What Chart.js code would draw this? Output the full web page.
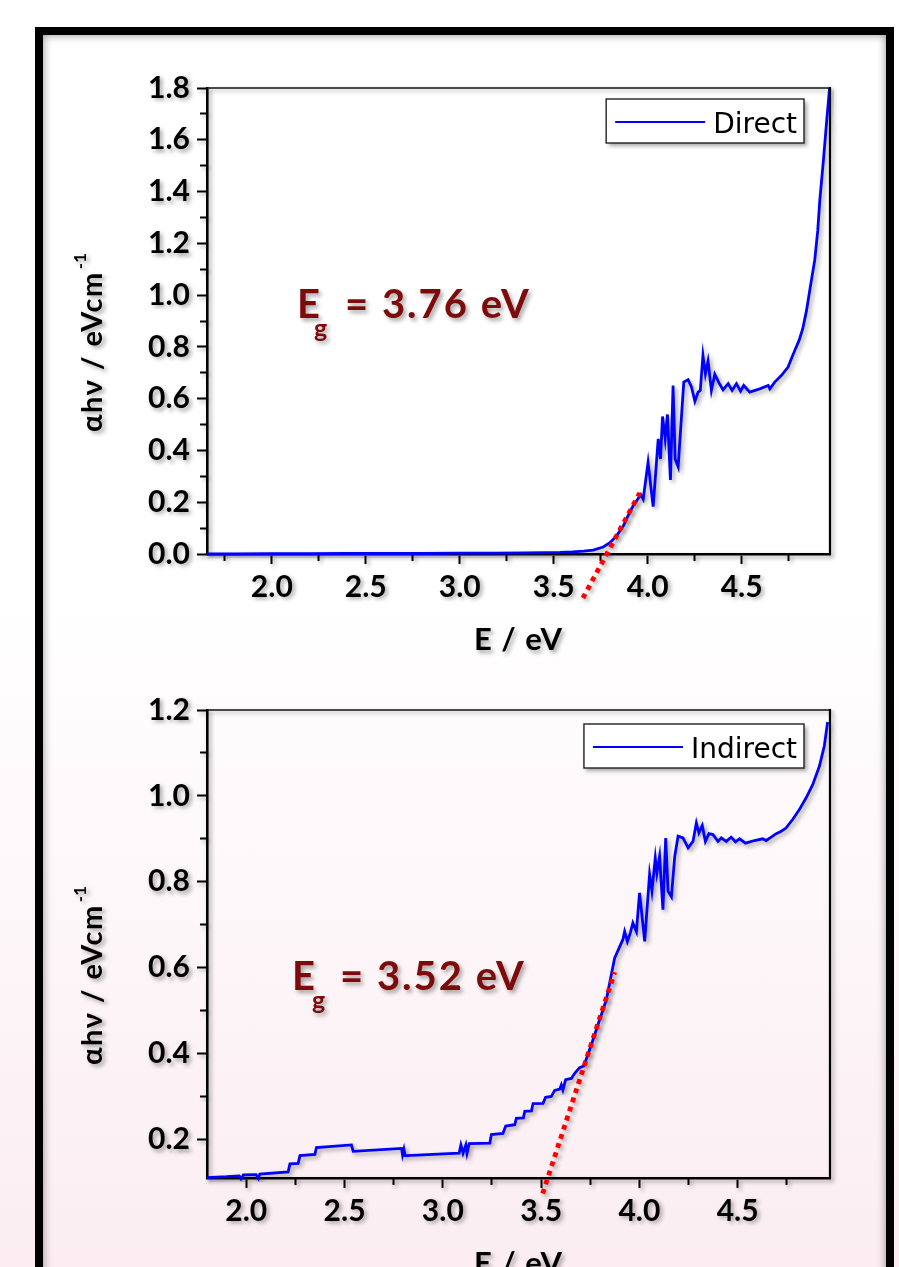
<!DOCTYPE html>
<html><head><meta charset="utf-8">
<script src="https://cdn.jsdelivr.net/npm/chart.js@4.4.1/dist/chart.umd.min.js"></script>
<style>
html,body{margin:0;padding:0;width:899px;height:1267px;overflow:hidden;}
body{background:linear-gradient(to bottom,#ffffff 0px,#ffffff 600px,#fbedf2 1267px);position:relative;}
#frame{position:absolute;left:35px;top:27px;width:843px;height:1320px;border:8px solid #000;box-shadow:inset 0 0 8px rgba(0,0,0,0.45);}
canvas{position:absolute;left:0;}
#c1{top:0;}
#c2{top:660px;}
</style></head><body>
<div id="frame"></div>
<canvas id="c1" width="899" height="660"></canvas>
<canvas id="c2" width="899" height="607"></canvas>
<script>
// ---- data: direct (top) ----
const directE   = [1.655, 1.8, 2.0, 2.2, 2.4, 2.6, 2.8, 3.0, 3.2, 3.35, 3.45, 3.533, 3.6, 3.66, 3.71, 3.763, 3.799, 3.834, 3.87, 3.895, 3.922, 3.94, 3.963, 3.976, 4.002, 4.029, 4.056, 4.068, 4.079, 4.093, 4.105, 4.121, 4.135, 4.146, 4.162, 4.192, 4.215, 4.233, 4.251, 4.268, 4.28, 4.294, 4.307, 4.321, 4.339, 4.357, 4.38, 4.401, 4.428, 4.449, 4.472, 4.494, 4.511, 4.543, 4.596, 4.641, 4.65, 4.676, 4.712, 4.747, 4.765, 4.783, 4.806, 4.825, 4.845, 4.865, 4.889, 4.905, 4.916, 4.935, 4.953, 4.968];
const directAbs = [0.0, 0.0, 0.001, 0.001, 0.002, 0.002, 0.002, 0.003, 0.003, 0.004, 0.005, 0.006, 0.008, 0.011, 0.015, 0.027, 0.044, 0.07, 0.108, 0.147, 0.186, 0.205, 0.229, 0.212, 0.354, 0.183, 0.445, 0.367, 0.531, 0.445, 0.539, 0.286, 0.651, 0.367, 0.337, 0.664, 0.673, 0.645, 0.59, 0.625, 0.632, 0.767, 0.696, 0.745, 0.632, 0.694, 0.66, 0.634, 0.658, 0.632, 0.658, 0.629, 0.651, 0.625, 0.638, 0.651, 0.638, 0.664, 0.69, 0.722, 0.755, 0.787, 0.826, 0.87, 0.94, 1.03, 1.136, 1.25, 1.368, 1.52, 1.678, 1.8];
const directFitE   = [3.655, 3.958];
const directFitAbs = [-0.17, 0.236];

// ---- data: indirect (bottom) ----
const indirectE   = [1.80, 1.90, 1.964, 1.973, 1.985, 2.05, 2.061, 2.069, 2.213, 2.222, 2.264, 2.273, 2.349, 2.357, 2.535, 2.544, 2.79, 2.795, 2.802, 2.808, 2.815, 3.083, 3.092, 3.103, 3.117, 3.123, 3.134, 3.239, 3.247, 3.306, 3.32, 3.366, 3.374, 3.41, 3.417, 3.451, 3.459, 3.51, 3.523, 3.552, 3.569, 3.595, 3.603, 3.611, 3.625, 3.654, 3.671, 3.696, 3.717, 3.738, 3.764, 3.798, 3.832, 3.874, 3.90, 3.916, 3.925, 3.939, 3.954, 3.967, 3.985, 4.001, 4.027, 4.052, 4.064, 4.081, 4.089, 4.103, 4.12, 4.134, 4.146, 4.163, 4.18, 4.197, 4.222, 4.248, 4.273, 4.29, 4.303, 4.32, 4.336, 4.354, 4.374, 4.40, 4.417, 4.442, 4.467, 4.489, 4.51, 4.54, 4.586, 4.628, 4.645, 4.671, 4.696, 4.72, 4.746, 4.78, 4.814, 4.848, 4.882, 4.916, 4.941, 4.958];
const indirectAbs = [0.111, 0.113, 0.115, 0.108, 0.117, 0.118, 0.109, 0.119, 0.124, 0.143, 0.144, 0.162, 0.165, 0.181, 0.187, 0.172, 0.179, 0.164, 0.177, 0.162, 0.162, 0.168, 0.187, 0.168, 0.187, 0.168, 0.19, 0.191, 0.211, 0.214, 0.231, 0.234, 0.249, 0.25, 0.265, 0.266, 0.283, 0.284, 0.298, 0.30, 0.314, 0.317, 0.327, 0.315, 0.339, 0.342, 0.354, 0.367, 0.371, 0.397, 0.432, 0.479, 0.525, 0.622, 0.649, 0.665, 0.684, 0.661, 0.681, 0.704, 0.684, 0.774, 0.661, 0.817, 0.778, 0.855, 0.82, 0.859, 0.735, 0.902, 0.778, 0.765, 0.859, 0.906, 0.902, 0.879, 0.894, 0.937, 0.914, 0.931, 0.894, 0.912, 0.91, 0.894, 0.902, 0.894, 0.904, 0.893, 0.90, 0.89, 0.896, 0.90, 0.896, 0.904, 0.912, 0.917, 0.925, 0.945, 0.968, 0.995, 1.026, 1.069, 1.116, 1.172];
const indirectFitE   = [3.508, 3.874];
const indirectFitAbs = [0.074, 0.589];

// ---- ticks ----
const topXMajor = [2.0, 2.5, 3.0, 3.5, 4.0, 4.5];
const topXMinor = [1.75, 2.25, 2.75, 3.25, 3.75, 4.25, 4.75];
const topYMajor = [0.0, 0.2, 0.4, 0.6, 0.8, 1.0, 1.2, 1.4, 1.6, 1.8];
const topYMinor = [0.1, 0.3, 0.5, 0.7, 0.9, 1.1, 1.3, 1.5, 1.7];
const botXMajor = [2.0, 2.5, 3.0, 3.5, 4.0, 4.5];
const botXMinor = [2.25, 2.75, 3.25, 3.75, 4.25, 4.75];
const botYMajor = [0.2, 0.4, 0.6, 0.8, 1.0, 1.2];
const botYMinor = [0.3, 0.5, 0.7, 0.9, 1.1];

// ---- texts ----
const seriesLabels = ['Direct', 'Indirect'];
const gapValues = ['3.76', '3.52'];
const xTitle = 'E / eV';
const yTitle = 'αhν / eVcm';
const yTitleSup = '-1';

const SHADOW = 'rgba(0,0,0,0.35)';

function makeChart(id, c) {
  const ctxEl = document.getElementById(id);
  const decor = {
    id: 'decor',
    beforeDraw(chart) {
      const ctx = chart.ctx;
      ctx.save();
      ctx.shadowColor = SHADOW;
      ctx.shadowBlur = 4;
      ctx.shadowOffsetX = 2.5;
      ctx.shadowOffsetY = 2.5;
    },
    afterDraw(chart) {
      const ctx = chart.ctx;
      const a = chart.chartArea;
      // top & right frame lines
      ctx.strokeStyle = '#111';
      ctx.lineWidth = 1.3;
      ctx.beginPath(); ctx.moveTo(a.left, a.top); ctx.lineTo(a.right, a.top); ctx.stroke();
      ctx.lineWidth = 2.2;
      ctx.strokeStyle = '#000';
      ctx.beginPath(); ctx.moveTo(a.right, a.top - 1); ctx.lineTo(a.right, a.bottom); ctx.stroke();

      // x title
      ctx.save();
      ctx.fillStyle = '#000';
      ctx.font = 'bold 31px Lato';
      ctx.letterSpacing = '1px';
      ctx.textAlign = 'center';
      ctx.textBaseline = 'alphabetic';
      ctx.fillText(xTitle, (a.left + a.right) / 2, a.bottom + 96);
      ctx.restore();

      // y title (rotated, with superscript)
      ctx.save();
      ctx.fillStyle = '#000';
      ctx.translate(102, c.yTitleStart);
      ctx.rotate(-Math.PI / 2);
      ctx.font = 'bold 29px Lato';
      ctx.letterSpacing = '1.5px';
      ctx.textAlign = 'left';
      ctx.textBaseline = 'alphabetic';
      ctx.fillText(yTitle, 0, 0);
      const w = ctx.measureText(yTitle).width;
      ctx.font = 'bold 17px Lato';
      ctx.letterSpacing = '0px';
      ctx.fillText(yTitleSup, w + 2, -16);
      ctx.restore();

      // legend box
      ctx.save();
      ctx.font = '28px "DejaVu Sans"';
      const tw = ctx.measureText(c.label).width;
      const bw = 9 + 90 + 8 + tw + 7;
      const bh = 44;
      const bx = a.right - 26 - bw;
      const by = a.top + c.legendTop;
      ctx.fillStyle = '#fff';
      ctx.fillRect(bx, by, bw, bh);
      ctx.shadowColor = 'transparent';
      ctx.strokeStyle = '#222';
      ctx.lineWidth = 1.4;
      ctx.strokeRect(bx, by, bw, bh);
      ctx.strokeStyle = '#0000ff';
      ctx.lineWidth = 2.2;
      ctx.beginPath(); ctx.moveTo(bx + 9, by + 23); ctx.lineTo(bx + 99, by + 23); ctx.stroke();
      ctx.fillStyle = '#000';
      ctx.textAlign = 'left';
      ctx.textBaseline = 'alphabetic';
      ctx.fillText(c.label, bx + 107, by + 34);
      ctx.restore();

      // band-gap annotation
      ctx.save();
      ctx.fillStyle = '#7d0b0b';
      ctx.textAlign = 'left';
      ctx.textBaseline = 'alphabetic';
      ctx.font = 'bold 40px Lato';
      ctx.fillText('E', c.egX, c.egY);
      ctx.font = 'bold 25px Lato';
      ctx.fillText('g', c.egX + c.gDx, c.egY + 19);
      ctx.font = 'bold 40px Lato';
      ctx.letterSpacing = '2px';
      ctx.fillText('= ' + c.gap + ' eV', c.egX + 48, c.egY);
      ctx.restore();

      ctx.restore();
    }
  };

  const tickFont = { family: 'Lato', weight: 'bold', size: 30 };
  return new Chart(ctxEl, {
    type: 'line',
    data: {
      datasets: [
        {
          label: c.label,
          data: c.E.map((x, i) => ({ x: x, y: c.A[i] })),
          borderColor: '#0000ff', borderWidth: 2.8, pointRadius: 0, tension: 0,
          order: 1, clip: 4, xAxisID: 'x', yAxisID: 'y'
        },
        {
          label: 'fit',
          data: c.fitE.map((x, i) => ({ x: x, y: c.fitA[i] })),
          borderColor: '#ff0000', borderWidth: 4.8, borderDash: [4.8, 4.8], borderCapStyle: 'butt',
          pointRadius: 0, tension: 0, order: 0, clip: false, xAxisID: 'x', yAxisID: 'y'
        }
      ]
    },
    options: {
      responsive: false,
      animation: false,
      devicePixelRatio: 1,
      layout: { padding: { top: c.padTop, right: 69, left: 0, bottom: 0 } },
      plugins: { legend: { display: false }, tooltip: { enabled: false } },
      scales: {
        x: {
          type: 'linear', position: 'bottom', weight: 1, min: c.xMin, max: c.xMax,
          afterBuildTicks: s => { s.ticks = c.xMajor.map(v => ({ value: v })); },
          afterFit: s => { s.height = c.xAxisH; },
          ticks: { autoSkip: false, maxRotation: 0, color: '#000', font: tickFont, padding: 5,
                   callback: v => Number(v).toFixed(1) },
          grid: { drawOnChartArea: false, drawTicks: true, tickLength: 10, tickWidth: 2, tickColor: '#000' },
          border: { display: true, color: '#000', width: 2.6 }
        },
        xm: {
          type: 'linear', position: 'bottom', weight: 0, min: c.xMin, max: c.xMax,
          afterBuildTicks: s => { s.ticks = c.xMinor.map(v => ({ value: v })); },
          afterFit: s => { s.height = 0; },
          ticks: { display: false },
          grid: { drawOnChartArea: false, drawTicks: true, tickLength: 7, tickWidth: 2, tickColor: '#000' },
          border: { display: false }
        },
        y: {
          type: 'linear', position: 'left', weight: 1, min: c.yMin, max: c.yMax,
          afterBuildTicks: s => { s.ticks = c.yMajor.map(v => ({ value: v })); },
          afterFit: s => { s.width = 207; },
          ticks: { autoSkip: false, color: '#000', font: tickFont, padding: 7,
                   callback: v => Number(v).toFixed(1) },
          grid: { drawOnChartArea: false, drawTicks: true, tickLength: 10, tickWidth: 2, tickColor: '#000' },
          border: { display: true, color: '#000', width: 2.6 }
        },
        ym: {
          type: 'linear', position: 'left', weight: 0, min: c.yMin, max: c.yMax,
          afterBuildTicks: s => { s.ticks = c.yMinor.map(v => ({ value: v })); },
          afterFit: s => { s.width = 0; },
          ticks: { display: false },
          grid: { drawOnChartArea: false, drawTicks: true, tickLength: 7, tickWidth: 2, tickColor: '#000' },
          border: { display: false }
        }
      }
    },
    plugins: [decor]
  });
}

makeChart('c1', {
  E: directE, A: directAbs, fitE: directFitE, fitA: directFitAbs,
  xMin: 1.655, xMax: 4.97, yMin: 0, yMax: 1.8,
  xMajor: topXMajor, xMinor: topXMinor, yMajor: topYMajor, yMinor: topYMinor,
  label: seriesLabels[0], gap: gapValues[0],
  padTop: 88, xAxisH: 106, legendTop: 11, yTitleStart: 432,
  egX: 297, egY: 318, gDx: 17
});
makeChart('c2', {
  E: indirectE, A: indirectAbs, fitE: indirectFitE, fitA: indirectFitAbs,
  xMin: 1.80, xMax: 4.97, yMin: 0.11, yMax: 1.2,
  xMajor: botXMajor, xMinor: botXMinor, yMajor: botYMajor, yMinor: botYMinor,
  label: seriesLabels[1], gap: gapValues[1],
  padTop: 50, xAxisH: 89, legendTop: 14, yTitleStart: 405,
  egX: 292, egY: 330, gDx: 20
});
</script>
</body></html>
